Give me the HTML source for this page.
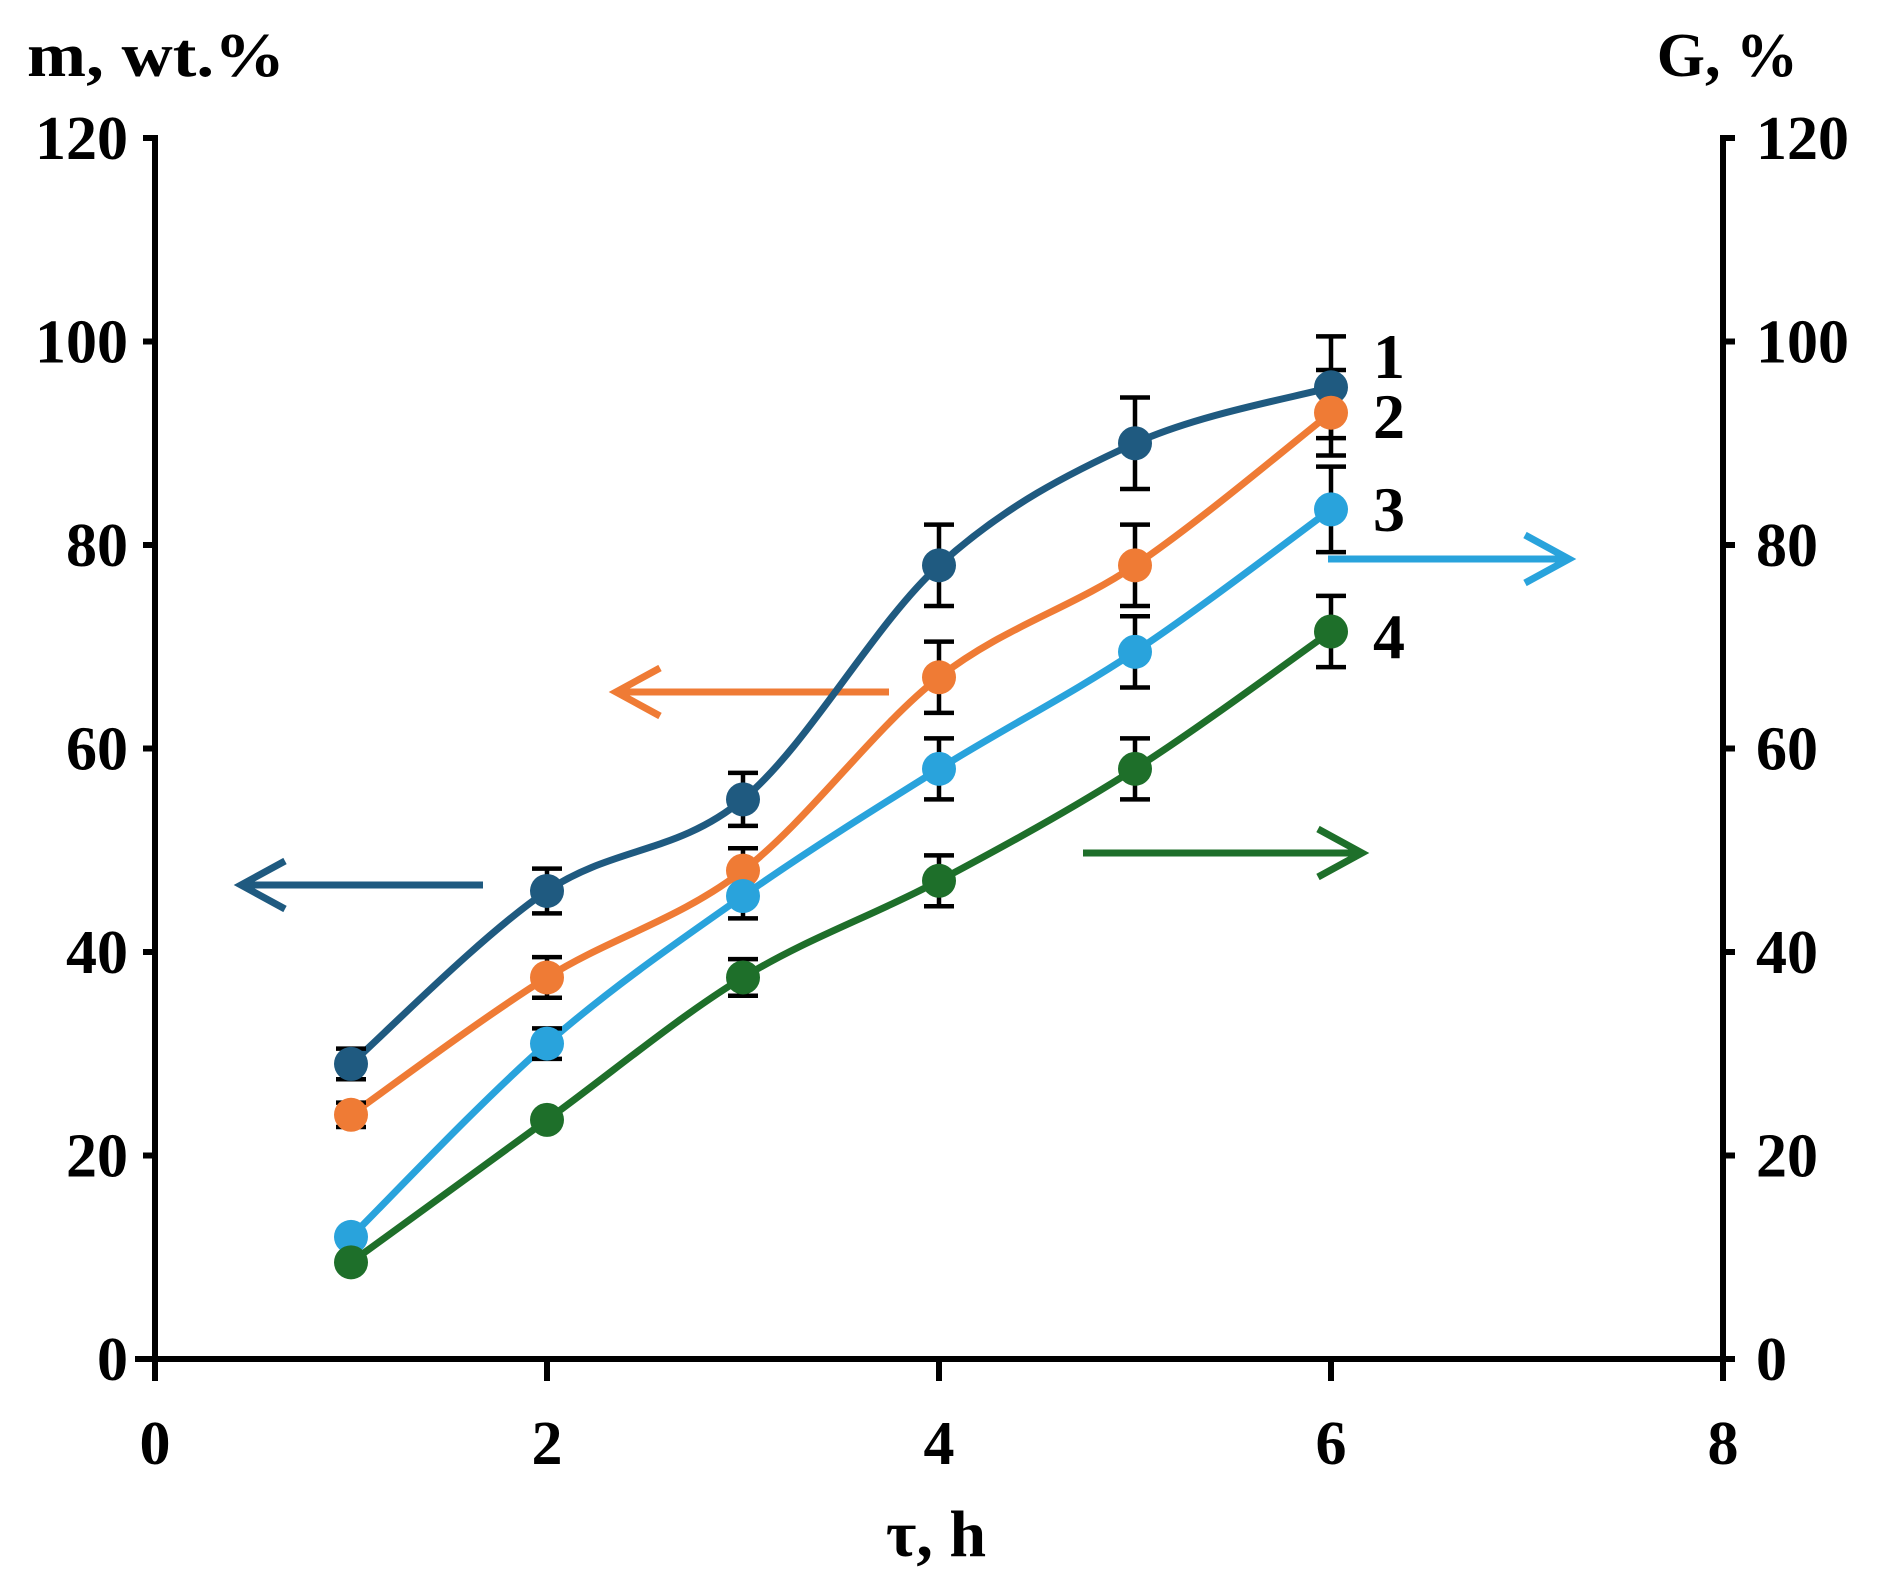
<!DOCTYPE html>
<html><head><meta charset="utf-8"><style>
html,body{margin:0;padding:0;background:#fff;}
svg text{font-family:"Liberation Serif",serif;font-weight:bold;fill:#000;}
</style></head><body>
<svg id="s" width="1892" height="1586" viewBox="0 0 1892 1586" xmlns="http://www.w3.org/2000/svg">
<text x="27" y="76" font-size="62" textLength="258" lengthAdjust="spacingAndGlyphs">m, wt.%</text>
<text x="1798" y="76" font-size="62" text-anchor="end">G, %</text>
<text x="936" y="1556" font-size="66" text-anchor="middle">τ, h</text>
<g id="axes" stroke="#000" stroke-width="6" fill="none">
<line x1="155" y1="135" x2="155" y2="1380"/>
<line x1="1723" y1="135" x2="1723" y2="1380"/>
<line x1="135" y1="1359" x2="1723" y2="1359"/>
</g>
<g id="g"></g>
</svg>
<script>
var X=function(v){return 155+v*196;},Y=function(v){return 1359-v*10.175;};
var ns="http://www.w3.org/2000/svg",g=document.getElementById('g'),ax=document.getElementById('axes');
function el(t,a,p){var e=document.createElementNS(ns,t);for(var k in a)e.setAttribute(k,a[k]);(p||g).appendChild(e);return e;}
for(var i=0;i<=6;i++){var y=Y(i*20);
 el('line',{x1:143,y1:y,x2:155,y2:y},ax);el('line',{x1:1723,y1:y,x2:1735,y2:y},ax);
 var t=el('text',{x:128,y:y+21,'font-size':62,'text-anchor':'end'});t.textContent=i*20;
 t=el('text',{x:1756,y:y+21,'font-size':62});t.textContent=i*20;}
for(var i=0;i<=4;i++){var x=X(i*2);el('line',{x1:x,y1:1359,x2:x,y2:1381},ax);
 var t=el('text',{x:x,y:1464,'font-size':62,'text-anchor':'middle'});t.textContent=i*2;}
var S=[
 {c:'#1f5a80',v:[29,46,55,78,90,95.5],e:[1.5,2.2,2.6,4,4.5,5]},
 {c:'#ef7b35',v:[24,37.5,48,67,78,93],e:[1.2,2,2.2,3.5,4,4.2]},
 {c:'#29a3dc',v:[12,31,45.5,58,69.5,83.5],e:[0.5,1.5,2.2,3,3.5,4.2]},
 {c:'#1e6f2a',v:[9.5,23.5,37.5,47,58,71.5],e:[0.5,0.5,1.8,2.5,3,3.5]}];
var arrows=[['#1f5a80',483,241,885],['#ef7b35',889,616,692],['#29a3dc',1328,1569,559],['#1e6f2a',1083,1362,853]];
arrows.forEach(function(a){var d=a[2]>a[1]?-1:1;
 el('path',{d:'M'+a[1]+' '+a[3]+'H'+a[2]+'M'+(a[2]+d*44)+' '+(a[3]-24)+'L'+a[2]+' '+a[3]+'L'+(a[2]+d*44)+' '+(a[3]+24),stroke:a[0],'stroke-width':7,fill:'none'});});
S.forEach(function(s){
 var p=s.v.map(function(v,i){return [X(i+1),Y(v)];});
 var d='M'+p[0][0]+' '+p[0][1];
 for(var i=0;i<p.length-1;i++){var p0=p[i-1]||p[i],p1=p[i],p2=p[i+1],p3=p[i+2]||p2;
  d+='C'+(p1[0]+(p2[0]-p0[0])/6)+' '+(p1[1]+(p2[1]-p0[1])/6)+' '+(p2[0]-(p3[0]-p1[0])/6)+' '+(p2[1]-(p3[1]-p1[1])/6)+' '+p2[0]+' '+p2[1];}
 el('path',{d:d,stroke:s.c,'stroke-width':7,fill:'none'});
});
S.forEach(function(s){s.v.forEach(function(v,i){var x=X(i+1),e=s.e[i]*10.175;
 el('path',{d:'M'+x+' '+(Y(v)-e)+'V'+(Y(v)+e)+'M'+(x-15)+' '+(Y(v)-e)+'h30M'+(x-15)+' '+(Y(v)+e)+'h30',stroke:'#000','stroke-width':4.5,fill:'none'});});});
S.forEach(function(s){s.v.forEach(function(v,i){el('circle',{cx:X(i+1),cy:Y(v),r:17,fill:s.c});});});
[['1',356],['2',416],['3',509],['4',636]].forEach(function(l){var t=el('text',{x:1373,y:l[1]+22,'font-size':64});t.textContent=l[0];});
</script>
</body></html>
